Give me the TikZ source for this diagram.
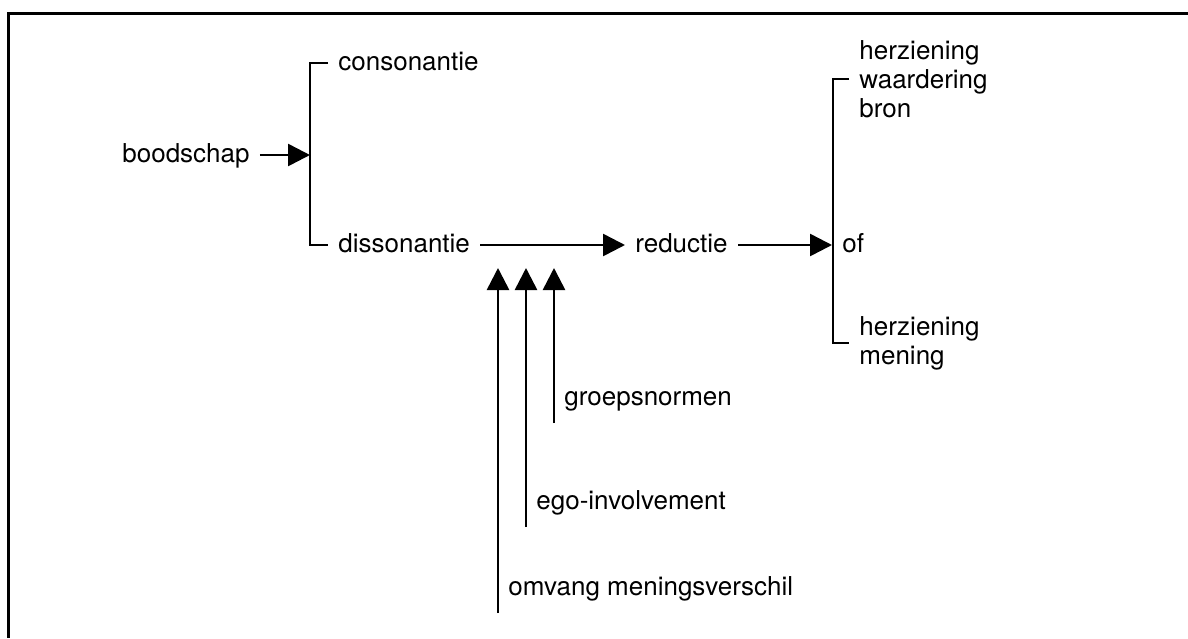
\documentclass[tikz,border=0pt]{standalone}
\usepackage{fontspec}
\setmainfont{TeX Gyre Heros}
\usetikzlibrary{arrows.meta,calc}

\begin{document}
\begin{tikzpicture}[x=.5pt, y=-.5pt,
  lbl/.style={anchor=west, inner xsep=5pt, inner ysep=0pt, font=\fontsize{13pt}{14.5pt}\selectfont},
  word/.style={lbl, text height=9.5pt, text depth=2.5pt},
  lines/.style={lbl, align=left},
  arr/.style={-{Triangle[length=11pt,width=11pt]}, line width=1.3pt},
  bracket/.style={line width=1.3pt}]
\useasboundingbox (0,0) rectangle (1188,638);
\draw [line width=1.5pt] (1188,13) -- (8.5,13) -- (8.5,638);

\node (boodschap) at (112,155) [word] {boodschap};
\node (cons) at (328,63) [word] {consonantie};
\node (diss) at (328,245) [word] {dissonantie};
\node (red) at (625,245) [word] {reductie};
\node (of) at (832,245) [word] {of};
\node (bron) at (849,79) [lines] {herziening\\waardering\\bron};
\node (mening) at (849,343) [lines] {herziening\\mening};
\node (groep) at (554,398) [word] {groepsnormen};
\node (ego) at (526,502) [word] {ego-involvement};
\node (omvang) at (498,588) [word] {omvang meningsverschil};
\coordinate (split) at (310,155);
\coordinate (tips) at (0,268);

\draw [bracket] (cons.west) -- ++(-18,0) |- (diss.west);
\draw [bracket] (bron.west) -- ++(-16,0) |- (mening.west);
\path [arr]
(boodschap) edge (split)
(diss) edge (red)
(red) edge (of)
([yshift=-12.5pt]groep.west) edge (groep.west |- tips)
([yshift=-12.5pt]ego.west) edge (ego.west |- tips)
([yshift=-12.5pt]omvang.west) edge (omvang.west |- tips);
\end{tikzpicture}
\end{document}
